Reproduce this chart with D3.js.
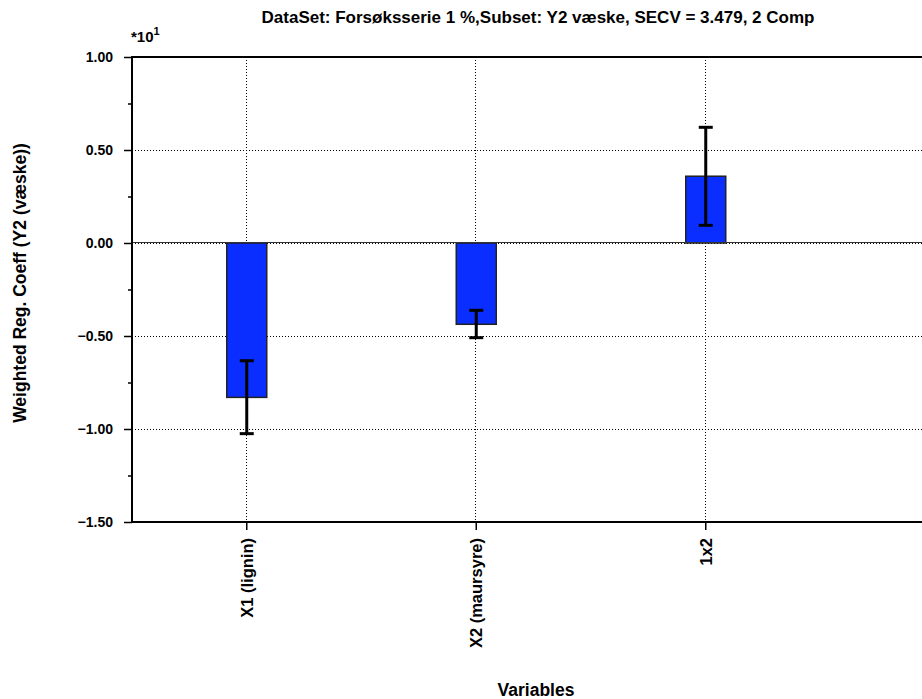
<!DOCTYPE html>
<html><head><meta charset="utf-8">
<script src="https://cdn.jsdelivr.net/npm/d3@7"></script>
<style>
body{margin:0;background:#fff;}
text{font-family:"Liberation Sans",Arial,sans-serif;font-weight:bold;fill:#000;}
</style></head>
<body><svg id="c" width="922" height="699"></svg>
<script>
const categories = ["X1 (lignin)", "X2 (maursyre)", "1x2"];
const coefValues = [-0.83, -0.437, 0.359];
const errLow = [-1.025, -0.509, 0.095];
const errHigh = [-0.633, -0.362, 0.622];
const yTicks = [1.0, 0.5, 0.0, -0.5, -1.0, -1.5];
const yMinorTicks = [0.75, 0.25, -0.25, -0.75, -1.25];
const titleText = "DataSet: Forsøksserie 1 %,Subset: Y2 væske, SECV = 3.479, 2 Comp";
const yLabel = "Weighted Reg. Coeff (Y2 (væske))";
const xLabel = "Variables";

const svg = d3.select("#c");
const L = 132, T = 57, B = 522, R = 922;
const x = d3.scaleBand().domain(categories).range([L, L + 3 * 229.5]).padding(0);
const y = d3.scaleLinear().domain([-1.5, 1.0]).range([B, T]);
const barW = 40;
const cx = d => x(d) + x.bandwidth() / 2;

// grid
const g = svg.append("g");
g.selectAll(".hg").data(yTicks.filter(v => v !== 1.0 && v !== -1.5)).enter()
  .append("line").attr("x1", L).attr("x2", R).attr("y1", d => y(d) + 0.5).attr("y2", d => y(d) + 0.5)
  .attr("stroke", "#000").attr("stroke-width", 1).attr("stroke-dasharray", "1,2");
g.selectAll(".vg").data(categories).enter()
  .append("line").attr("x1", d => Math.round(cx(d)) - 0.5).attr("x2", d => Math.round(cx(d)) - 0.5)
  .attr("y1", T).attr("y2", B).attr("stroke", "#000").attr("stroke-width", 1).attr("stroke-dasharray", "1,2");

// bars
svg.selectAll(".bar").data(categories).enter().append("rect")
  .attr("x", d => cx(d) - barW / 2)
  .attr("width", barW)
  .attr("y", (d, i) => y(Math.max(0, coefValues[i])))
  .attr("height", (d, i) => Math.abs(y(coefValues[i]) - y(0)))
  .attr("fill", "#0a2eff").attr("stroke", "#222").attr("stroke-width", 1.5);

// zero line
svg.append("line").attr("x1", L).attr("x2", R).attr("y1", y(0) - 0.5).attr("y2", y(0) - 0.5)
  .attr("stroke", "#333").attr("stroke-width", 1.2);

// error bars
const eb = svg.selectAll(".eb").data(categories).enter().append("g");
eb.append("line").attr("x1", cx).attr("x2", cx)
  .attr("y1", (d, i) => y(errLow[i])).attr("y2", (d, i) => y(errHigh[i])).attr("stroke", "#000").attr("stroke-width", 3);
eb.append("line").attr("x1", d => cx(d) - 7).attr("x2", d => cx(d) + 7)
  .attr("y1", (d, i) => y(errLow[i])).attr("y2", (d, i) => y(errLow[i])).attr("stroke", "#000").attr("stroke-width", 3);
eb.append("line").attr("x1", d => cx(d) - 7).attr("x2", d => cx(d) + 7)
  .attr("y1", (d, i) => y(errHigh[i])).attr("y2", (d, i) => y(errHigh[i])).attr("stroke", "#000").attr("stroke-width", 3);

// frame: top, bottom, left
svg.append("line").attr("x1", L).attr("x2", R).attr("y1", T).attr("y2", T).attr("stroke", "#000").attr("stroke-width", 2);
svg.append("line").attr("x1", L).attr("x2", R).attr("y1", B).attr("y2", B).attr("stroke", "#000").attr("stroke-width", 2);
svg.append("line").attr("x1", L).attr("x2", L).attr("y1", T - 1).attr("y2", B + 1).attr("stroke", "#000").attr("stroke-width", 2);

// y axis ticks
const yAxis = d3.axisLeft(y).tickValues(yTicks).tickSize(8).tickFormat(d3.format(".2f"));
const ya = svg.append("g").attr("transform", `translate(${L},0)`).call(yAxis);
ya.select(".domain").remove();
ya.selectAll(".tick line").attr("stroke", "#000").attr("stroke-width", 1.5);
ya.selectAll(".tick text").attr("x", -19).style("font-size", "14px").style("font-family", "Liberation Sans, Arial, sans-serif").style("font-weight", "bold");
const yMinor = d3.axisLeft(y).tickValues(yMinorTicks).tickSize(4).tickFormat("");
const ym = svg.append("g").attr("transform", `translate(${L},0)`).call(yMinor);
ym.select(".domain").remove();
ym.selectAll(".tick line").attr("stroke", "#000").attr("stroke-width", 1.5);

// x axis ticks
const xAxis = d3.axisBottom(x).tickSize(8).tickSizeOuter(0);
const xa = svg.append("g").attr("transform", `translate(0,${B})`).call(xAxis);
xa.select(".domain").remove();
xa.selectAll(".tick line").attr("stroke", "#000").attr("stroke-width", 1.5);
xa.selectAll(".tick text").attr("transform", "rotate(-90)").attr("x", -16).attr("y", 0).attr("dy", "0.35em")
  .attr("text-anchor", "end").style("font-size", "16.5px").style("font-family", "Liberation Sans, Arial, sans-serif").style("font-weight", "bold");

// exponent label
const ex = svg.append("text").attr("x", 131).attr("y", 42).style("font-size", "15px");
ex.append("tspan").text("*10");
ex.append("tspan").attr("dy", -7).style("font-size", "11px").text("1");

// title
svg.append("text").attr("x", 538).attr("y", 23).attr("text-anchor", "middle").style("font-size", "17px").text(titleText);
// y label
svg.append("text").attr("transform", "translate(26,283) rotate(-90)").attr("text-anchor", "middle").style("font-size", "17.5px").text(yLabel);
// x label
svg.append("text").attr("x", 536).attr("y", 696).attr("text-anchor", "middle").style("font-size", "17.5px").text(xLabel);
</script></body></html>
